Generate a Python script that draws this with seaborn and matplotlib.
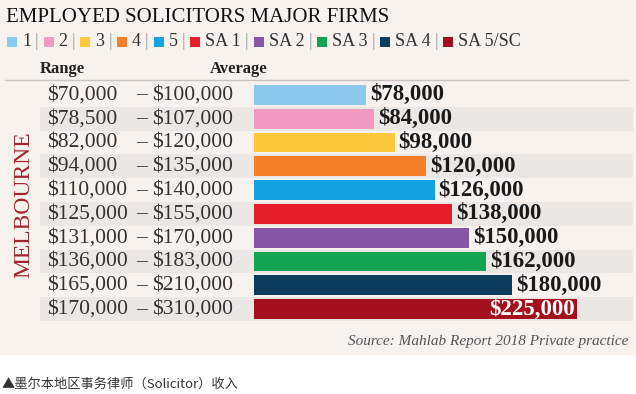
import matplotlib
matplotlib.use('Agg')
import matplotlib.pyplot as plt
import matplotlib.transforms as mtransforms
from matplotlib.patches import Rectangle
import seaborn as sns
import pandas as pd

# data
tiers = ['1', '2', '3', '4', '5', 'SA 1', 'SA 2', 'SA 3', 'SA 4', 'SA 5/SC']
range_low = ['$70,000', '$78,500', '$82,000', '$94,000', '$110,000',
             '$125,000', '$131,000', '$136,000', '$165,000', '$170,000']
range_high = ['$100,000', '$107,000', '$120,000', '$135,000', '$140,000',
              '$155,000', '$170,000', '$183,000', '$210,000', '$310,000']
average = [78000, 84000, 98000, 120000, 126000, 138000, 150000, 162000, 180000, 225000]
colors = ['#8cc9ec', '#f09ac2', '#fcc93b', '#f47f27', '#13a2e2',
          '#e61e2b', '#8856a6', '#12a450', '#0c3c5e', '#a30f1c']

W, H = 636, 394
BG = '#f8f2ef'
STRIPE = '#ebe7e5'
SERIF = 'Liberation Serif'

df = pd.DataFrame({'tier': tiers, 'average': average})

fig = plt.figure(figsize=(W / 100, H / 100), dpi=100)
fig.patch.set_facecolor('white')
fig.patches.append(Rectangle((0, 1 - 355 / H), 1, 355 / H, transform=fig.transFigure,
                             facecolor=BG, edgecolor='none', zorder=-10))

ax = fig.add_axes([40 / W, 1 - 321 / H, 593 / W, 238 / H])
ax.set_facecolor('none')
sns.barplot(data=df, x='average', y='tier', hue='tier', palette=colors, legend=False,
            width=0.84, saturation=1, ax=ax, zorder=3)

scale = 1.434 / 1000  # px per dollar
ax.set_xlim(-214 / scale, 379 / scale)
ax.set_ylim(len(tiers) - 0.5, -0.5)
for i in range(1, len(tiers), 2):
    ax.axhspan(i - 0.5, i + 0.5, color=STRIPE, zorder=0, lw=0)
ax.axis('off')

tr = mtransforms.blended_transform_factory(fig.transFigure, ax.transData)
for i, (lo, hi, v) in enumerate(zip(range_low, range_high, average)):
    ax.text(47 / W, i, lo, transform=tr, ha='left', va='center', fontsize=15.5,
            family=SERIF, color='#333333')
    ax.text(141 / W, i, '–', transform=tr, ha='center', va='center', fontsize=15.5,
            family=SERIF, color='#333333')
    ax.text(152 / W, i, hi, transform=tr, ha='left', va='center', fontsize=15.5,
            family=SERIF, color='#333333')
    if i == len(tiers) - 1:
        ax.text(v - 2 / scale, i, f'${v:,.0f}', ha='right', va='center', fontsize=16.5,
                family=SERIF, weight='bold', color='white', zorder=5)
    else:
        ax.text(v + 4 / scale, i, f'${v:,.0f}', ha='left', va='center', fontsize=16.5,
                family=SERIF, weight='bold', color='#1a1a1a', zorder=5)

# title
fig.text(6 / W, 1 - 17 / H, 'EMPLOYED SOLICITORS MAJOR FIRMS', ha='left', va='center',
         fontsize=15, family=SERIF, color='#111111')

# legend row
renderer = fig.canvas.get_renderer()
x = 7
ly = 1 - 42 / H
for k, (t, c) in enumerate(zip(tiers, colors)):
    fig.patches.append(Rectangle((x / W, 1 - 47 / H), 10 / W, 10 / H,
                                 transform=fig.transFigure, facecolor=c, edgecolor='none'))
    x += 15
    txt = fig.text(x / W, ly, t, ha='left', va='center', fontsize=13, family=SERIF,
                   color='#333333')
    x += txt.get_window_extent(renderer).width + 4
    if k < len(tiers) - 1:
        sep = fig.text(x / W, ly, '|', ha='left', va='center', fontsize=13,
                       family=SERIF, color='#999999')
        x += sep.get_window_extent(renderer).width + 5

# header
fig.text(40 / W, 1 - 69 / H, 'Range', ha='left', va='center', fontsize=12,
         family=SERIF, weight='bold', color='#222222')
fig.text(210 / W, 1 - 69 / H, 'Average', ha='left', va='center', fontsize=12,
         family=SERIF, weight='bold', color='#222222')
fig.add_artist(plt.Line2D([5 / W, 628 / W], [1 - 80 / H, 1 - 80 / H],
                          transform=fig.transFigure, color='#c9c4c1', lw=1))

# side label
fig.text(24 / W, 1 - 205 / H, 'MELBOURNE', rotation=90, ha='center', va='center',
         fontsize=17, family=SERIF, color='#a3262f')

# source
fig.text(628 / W, 1 - 342 / H, 'Source: Mahlab Report 2018 Private practice',
         ha='right', va='center', fontsize=11, family=SERIF, style='italic',
         color='#555555')

# caption
fig.text(2 / W, 1 - 384 / H, '▲墨尔本地区事务律师（Solicitor）收入', ha='left',
         va='center', fontsize=9.5, family=['Noto Sans CJK SC', 'DejaVu Sans'],
         color='#333333')

fig.savefig('out.png', dpi=100, facecolor=fig.get_facecolor())
